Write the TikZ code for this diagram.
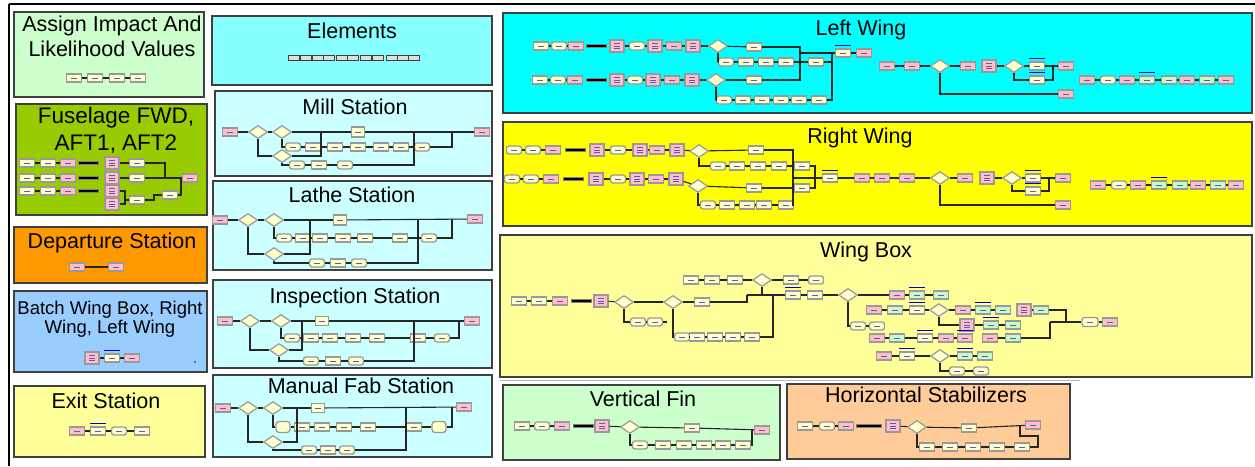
\documentclass[tikz,border=0pt]{standalone}
\usepackage{fontspec}
\setmainfont{Liberation Sans}
\usetikzlibrary{shapes.geometric}

% panel fills
\definecolor{cAssign}{RGB}{204,255,204}
\definecolor{cFus}{RGB}{153,204,0}
\definecolor{cDep}{RGB}{255,153,0}
\definecolor{cBatch}{RGB}{153,204,255}
\definecolor{cExit}{RGB}{255,255,153}
\definecolor{cElem}{RGB}{136,255,255}
\definecolor{cStat}{RGB}{204,255,255}
\definecolor{cLW}{RGB}{0,255,255}
\definecolor{cRW}{RGB}{255,255,0}
\definecolor{cWB}{RGB}{255,255,153}
\definecolor{cVF}{RGB}{204,255,204}
\definecolor{cHS}{RGB}{255,204,153}
% module fills
\definecolor{blkY}{RGB}{255,255,204}
\definecolor{blkP}{RGB}{255,190,200}
\definecolor{blkG}{RGB}{200,250,200}
\definecolor{lbl}{RGB}{90,90,190}

\tikzset{
  ln/.style={draw=black!85, line width=1.1},
  panel/.style={draw=black!75, line width=1.2},
  ttl/.style={anchor=north, inner sep=0, align=center, font=\fontsize{21.5}{25}\selectfont},
  blk0/.style={rectangle, draw=black!40, line width=1.3, minimum width=15,
    minimum height=8, inner sep=0},
  dash1/.style={path picture={\draw[lbl, line width=0.45]
    ([xshift=-3pt]path picture bounding box.center) --
    ([xshift=3pt]path picture bounding box.center);}},
  yb/.style={blk0, dash1, fill=blkY},
  yr/.style={yb, rounded corners=2.5},
  ybl/.style={blk0, fill=blkY, rounded corners=3, minimum width=14, minimum height=11},
  pb/.style={blk0, dash1, fill=blkP},
  gb/.style={blk0, dash1, fill=blkG},
  pt/.style={blk0, fill=blkP, minimum width=14, minimum height=12,
    path picture={\foreach \o in {-2.5,0,2.5}{\draw[lbl, line width=0.4]
      ([xshift=-3pt,yshift=\o pt]path picture bounding box.center) --
      ([xshift=3pt,yshift=\o pt]path picture bounding box.center);}}},
  dia/.style={diamond, draw=black!40, fill=blkY, line width=1.2,
    minimum width=19, minimum height=13, inner sep=0},
  bar/.style={rectangle, fill=black, draw=black!50, line width=0.6,
    minimum width=20, minimum height=3.5, inner sep=0},
  barw/.style={bar, minimum width=25},
  qb/.style={append after command={([yshift=2.5pt]\tikzlastnode.north west)
    edge[draw=blue!80!black, line width=1] ([yshift=2.5pt]\tikzlastnode.north east)}},
  ybq/.style={yb, qb},
  gbq/.style={gb, qb},
  pbq/.style={pb, qb},
  elc/.style={rectangle, fill=gray!25, draw=black!75, line width=1,
    minimum width=11, minimum height=5, inner sep=0},
}

% a row of modules: prefix, y, list of x/style
\newcommand\brow[3]{\foreach \bx/\bs [count=\bi] in {#3}{\node[\bs] (#1\bi) at (\bx,#2) {};}}
% connect consecutive modules prefix<i> -- prefix<i+1>
\newcommand\blink[3]{\foreach \li in {#2,...,#3}{\pgfmathtruncatemacro\lj{\li+1}\draw[ln] (#1\li) -- (#1\lj);}}

\begin{document}
\begin{tikzpicture}[x=1pt, y=-1pt]
\fill[white] (0,0) rectangle (1255,466);
\useasboundingbox (0,0) rectangle (1255,466);

% outer frame
\draw[black, line width=2.2] (9,4) -- (1255,4);
\draw[black, line width=2] (9,4) -- (9,466);
\draw[gray!55, line width=1] (500,380) -- (1080,380);

% ---------------- panels ----------------
\draw[panel, fill=cAssign] (14,12) rectangle (204,97);
\draw[panel, fill=cFus] (16,104) rectangle (207,215);
\draw[panel, fill=cDep] (14,227) rectangle (207,283);
\draw[panel, fill=cBatch] (14,291) rectangle (207,372);
\draw[panel, fill=cExit] (14,386) rectangle (205,457);
\draw[panel, fill=cElem] (212,16) rectangle (492,85);
\draw[panel, fill=cStat] (215,91) rectangle (492,176);
\draw[panel, fill=cStat] (213,181) rectangle (492,270);
\draw[panel, fill=cStat] (213,280) rectangle (492,368);
\draw[panel, fill=cStat] (213,375) rectangle (492,457);
\draw[panel, fill=cLW] (503,13) rectangle (1252,113);
\draw[panel, fill=cRW] (503,122) rectangle (1252,226);
\draw[panel, fill=cWB] (500,235) rectangle (1252,377);
\draw[panel, fill=cVF] (503,385) rectangle (780,460);
\draw[panel, fill=cHS] (787,384) rectangle (1070,459);

% ---------------- titles ----------------
\node[ttl] (tAssign) at (112,16) {Assign Impact And\\Likelihood Values};
\node[ttl, font=\fontsize{22.5}{27}\selectfont] (tFus) at (116,107) {Fuselage FWD,\\AFT1, AFT2};
\node[ttl] (tDep) at (112,233) {Departure Station};
\node[ttl, font=\fontsize{18.5}{19}\selectfont] (tBatch) at (110,301) {Batch Wing Box, Right\\Wing, Left Wing};
\node[ttl] (tExit) at (106,393) {Exit Station};
\node[ttl] (tElem) at (352,23) {Elements};
\node[ttl] (tMill) at (355,99) {Mill Station};
\node[ttl] (tLathe) at (352,187) {Lathe Station};
\node[ttl] (tInsp) at (355,288) {Inspection Station};
\node[ttl] (tMan) at (361,378) {Manual Fab Station};
\node[ttl] (tLW) at (861,20) {Left Wing};
\node[ttl] (tRW) at (860,128) {Right Wing};
\node[ttl] (tWB) at (866,242) {Wing Box};
\node[ttl] (tVF) at (643,391) {Vertical Fin};
\node[ttl] (tHS) at (926,387) {Horizontal Stabilizers};

% ---------------- Assign Impact And Likelihood Values ----------------
\brow{as}{78}{74/yb,95/yb,117/yb,138/yb}
\blink{as}{1}{3}

% ---------------- Fuselage ----------------
\brow{fa}{163}{27/yb,48/yb,68/pb,88/bar,112/pt,137/yb}
\brow{fb}{178}{27/yb,48/yb,68/pb,88/bar,112/pt,137/yb}
\brow{fc}{191}{27/yb,48/yb,68/pb,88/bar,112/pt}
\node[pt] (fc6) at (112,204) {};
\node[yb] (fc7) at (137,200) {};
\node[yb] (fc8) at (170,195) {};
\node[pb] (fe) at (190,178) {};
\blink{fa}{1}{2} \blink{fb}{1}{2} \blink{fc}{1}{2}
\draw[ln] (fa5) -- (fa6);
\draw[ln] (fb5) -- (fb6);
\coordinate (fj1) at (165,178);
\coordinate (fj2) at (125,200);
\coordinate (fj3) at (154,195);
\coordinate (fj4) at (181,195);
\draw[ln] (fa6.east) -| (fj1);
\draw[ln] (fb6) -- (fe);
\draw[ln] (fc5.east) -| (fj2);
\draw[ln] (fc6.east) -| (fj2);
\draw[ln] (fj2) -- (fc7.west);
\draw[ln] (fc7.east) -| (fj3) -- (fc8.west);
\draw[ln] (fc8.east) -- (fj4) |- (fe.west);

% ---------------- Departure Station ----------------
\brow{dp}{267}{77/pb,116/pb}
\blink{dp}{1}{1}

% ---------------- Batch ----------------
\brow{bt}{358}{92/pt,112/ybq,132/pb}
\blink{bt}{1}{2}
\node[circle, fill=blue!60!black, inner sep=0, minimum size=1.6] (btdot) at (195,362) {};

% ---------------- Exit Station ----------------
\brow{ex}{431}{77/pb,98/ybq,119/yr,142/yb}
\blink{ex}{1}{3}

% ---------------- Elements ----------------
\foreach \x [count=\i] in {294,306,318,329,342,353,366,378,392,403,414}
  \node[elc] (el\i) at (\x,58) {};

% ---------------- Mill Station ----------------
\node[pb] (mS) at (230,132) {};
\node[dia] (mD1) at (258,132) {};
\node[dia] (mD2) at (282,132) {};
\node[yb, minimum width=13, minimum height=10] (mT) at (358,132) {};
\node[pb] (mE) at (482,132) {};
\brow{mB}{147}{293/yr,313/yb,335/yb,358/yb,381/yb,401/yb,422/yr}
\node[dia] (mD3) at (282,156) {};
\brow{mC}{165}{297/yr,319/yb,345/yr}
\coordinate (mJ1) at (452,132);
\coordinate (mJ2) at (321,132);
\coordinate (mJ3) at (414,132);
\draw[ln] (mS) -- (mD1);
\draw[ln] (mD1) -- (mD2);
\draw[ln] (mD2) -- (mT);
\draw[ln] (mT) -- (mE);
\draw[ln] (mD2.south) |- (mB1.west);
\blink{mB}{1}{6}
\draw[ln] (mB7.east) -| (mJ1);
\draw[ln] (mD1.south) |- (mD3.west);
\draw[ln] (mD3.east) -| (mJ2);
\draw[ln] (mD3.south) |- (mC1.west);
\blink{mC}{1}{2}
\draw[ln] (mC3.east) -| (mJ3);

% ---------------- Lathe Station ----------------
\node[pb] (lS) at (220,220) {};
\node[dia] (lD1) at (248,220) {};
\node[dia] (lD2) at (274,220) {};
\node[yb, minimum width=13, minimum height=10] (lT) at (340,220) {};
\node[pb] (lE) at (475,219) {};
\brow{lB}{238}{284/yr,303/yb,320/yb,343/yb,365/yb,400/yb,429/yr}
\node[dia] (lD3) at (274,254) {};
\brow{lC}{263}{317/yr,338/yb,359/yr}
\coordinate (lJ1) at (452,219);
\coordinate (lJ2) at (310,220);
\coordinate (lJ3) at (418,220);
\draw[ln] (lS) -- (lD1);
\draw[ln] (lD1) -- (lD2);
\draw[ln] (lD2) -- (lT);
\draw[ln] (lT) -- (lE);
\draw[ln] (lD2.south) |- (lB1.west);
\blink{lB}{1}{6}
\draw[ln] (lB7.east) -| (lJ1);
\draw[ln] (lD1.south) |- (lD3.west);
\draw[ln] (lD3.east) -| (lJ2);
\draw[ln] (lD3.south) |- (lC1.west);
\blink{lC}{1}{2}
\draw[ln] (lC3.east) -| (lJ3);

% ---------------- Inspection Station ----------------
\node[pb] (iS) at (225,321) {};
\node[dia] (iD1) at (250,321) {};
\node[dia] (iD2) at (281,321) {};
\node[yb, minimum width=13, minimum height=9] (iT) at (322,321) {};
\node[pb] (iE) at (472,321) {};
\brow{iB}{338}{292/yr,311/yb,330/yb,353/yb,377/yb,418/yb,442/yr}
\node[dia] (iD3) at (279,350) {};
\brow{iC}{361}{311/yr,333/yb,356/yr}
\coordinate (iJ1) at (459,321);
\coordinate (iJ2) at (302,321);
\coordinate (iJ3) at (414,321);
\draw[ln] (iS) -- (iD1);
\draw[ln] (iD1) -- (iD2);
\draw[ln] (iD2) -- (iT);
\draw[ln] (iT) -- (iE);
\draw[ln] (iD2.south) |- (iB1.west);
\blink{iB}{1}{6}
\draw[ln] (iB7.east) -| (iJ1);
\draw[ln] (iD1.south) |- (iD3.west);
\draw[ln] (iD3.east) -| (iJ2);
\draw[ln] (iD3.south) |- (iC1.west);
\blink{iC}{1}{2}
\draw[ln] (iC3.east) -| (iJ3);

% ---------------- Manual Fab Station ----------------
\node[pb] (mfS) at (223,408) {};
\node[dia] (mfD1) at (248,408) {};
\node[dia] (mfD2) at (273,408) {};
\node[yb, minimum width=13, minimum height=9] (mfT) at (318,408) {};
\node[pb] (mfE) at (464,407) {};
\brow{mfB}{427}{283/ybl,302/yb,322/yb,344/yb,368/yb,414/yb,439/ybl}
\node[dia] (mfD3) at (273,442) {};
\brow{mfC}{450}{309/yr,328/yb,347/yr}
\coordinate (mfJ1) at (452,407);
\coordinate (mfJ2) at (297,408);
\coordinate (mfJ3) at (406,408);
\draw[ln] (mfS) -- (mfD1);
\draw[ln] (mfD1) -- (mfD2);
\draw[ln] (mfD2) -- (mfT);
\draw[ln] (mfT) -- (mfE);
\draw[ln] (mfD2.south) |- (mfB1.west);
\blink{mfB}{1}{6}
\draw[ln] (mfB7.east) -| (mfJ1);
\draw[ln] (mfD1.south) |- (mfD3.west);
\draw[ln] (mfD3.east) -| (mfJ2);
\draw[ln] (mfD3.south) |- (mfC1.west);
\blink{mfC}{1}{2}
\draw[ln] (mfC3.east) -| (mfJ3);

% ---------------- Left Wing ----------------
\brow{lwA}{46}{541/yb,559/yr,576/pb,596/bar,617/pt,637/yr,655/pt,674/pb,693/pt}
\node[dia] (lwAD) at (718,46) {};
\node[yb] (lwAT) at (754,47) {};
\blink{lwA}{1}{2}
\blink{lwA}{5}{8}
\draw[ln] (lwA9) -- (lwAD);
\draw[ln] (lwAD) -- (lwAT);
\brow{lwB}{62}{726/yr,746/yb,766/yb,786/yb,816/yb}
\draw[ln] (lwAD.south) |- (lwB1.west);
\blink{lwB}{1}{4}
\brow{lwC}{80}{540/yb,558/yr,575/pb,596/bar,617/pt,635/yr,653/pt,672/pb,692/pt}
\node[dia] (lwCD) at (716,80) {};
\node[yb] (lwCT) at (754,80) {};
\blink{lwC}{1}{2}
\blink{lwC}{5}{8}
\draw[ln] (lwC9) -- (lwCD);
\draw[ln] (lwCD) -- (lwCT);
\brow{lwD}{100}{724/yr,743/yb,762/yb,781/yb,799/yb,819/yb}
\draw[ln] (lwCD.south) |- (lwD1.west);
\blink{lwD}{1}{5}
\coordinate (lwJ1) at (800,53);
\coordinate (lwJ2) at (832,53);
\draw[ln] (lwAT.east) -| (lwJ1);
\draw[ln] (lwCT.east) -| (lwJ1);
\draw[ln] (lwB5.east) -| (lwJ2);
\draw[ln] (lwD6.east) -| (lwJ2);
\node[ybq] (lwQ) at (843,53) {};
\node[pb] (lwP) at (864,53) {};
\draw[ln] (lwJ1) -- (lwQ.west);
\draw[ln] (lwQ) -- (lwP);
\brow{lwE}{66}{887/pb,912/pb,940/dia,968/pb,989/pt,1014/dia,1037/ybq,1066/pb}
\blink{lwE}{1}{3}
\blink{lwE}{5}{7}
\node[ybq] (lwF1) at (1037,80) {};
\node[pb] (lwF2) at (1066,94) {};
\coordinate (lwJ3) at (1053,66);
\draw[ln] (lwE6.south) |- (lwF1.west);
\draw[ln] (lwF1.east) -| (lwJ3);
\draw[ln] (lwE3.south) |- (lwF2.west);
\brow{lwG}{80}{1087/pb,1108/yr,1127/pb,1147/gbq,1169/gb,1187/pb,1207/gb,1226/pb}
\blink{lwG}{1}{7}

% ---------------- Right Wing ----------------
\brow{rwA}{150}{514/yr,533/yr,553/pb,575/bar,597/pt,618/yr,640/pt,657/pb,677/pt}
\node[dia] (rwAD) at (699,151) {};
\node[yb] (rwAT) at (756,150) {};
\blink{rwA}{1}{2}
\blink{rwA}{5}{8}
\draw[ln] (rwA9) -- (rwAD);
\draw[ln] (rwAD) -- (rwAT);
\brow{rwB}{166}{718/yr,737/yb,758/yb,779/yb,802/yb}
\draw[ln] (rwAD.south) |- (rwB1.west);
\blink{rwB}{1}{4}
\brow{rwC}{179}{512/yr,531/yr,551/pb,573/bar,596/pt,618/yr,637/pt,656/pb,676/pt}
\node[dia] (rwCD) at (698,186) {};
\node[yb] (rwCT) at (754,188) {};
\blink{rwC}{1}{2}
\blink{rwC}{5}{8}
\draw[ln] (rwC9) -- (rwCD);
\draw[ln] (rwCD) -- (rwCT);
\brow{rwD}{205}{708/yr,727/yb,747/yb,764/yb,786/yb}
\draw[ln] (rwCD.south) |- (rwD1.west);
\blink{rwD}{1}{4}
\node[yb] (rwB6) at (802,188) {};
\coordinate (rwV1) at (793,178);
\coordinate (rwV2) at (815,178);
\draw[ln] (rwAT.east) -| (rwV1);
\draw[ln] (rwD5.east) -| (rwV1);
\draw[ln] (rwCT) -- (rwB6);
\draw[ln] (rwB5.east) -| (rwV2);
\draw[ln] (rwB6.east) -| (rwV2);
\node[ybq] (rwQ) at (830,178) {};
\draw[ln] (rwV1) -- (rwQ.west);
\brow{rwE}{178}{862/pb,882/pb,907/pb,940/dia,965/pb,987/pt,1012/dia,1033/ybq,1063/pb}
\draw[ln] (rwQ) -- (rwE1);
\blink{rwE}{1}{4}
\blink{rwE}{6}{8}
\node[ybq] (rwF1) at (1033,191) {};
\node[pb] (rwF2) at (1063,205) {};
\coordinate (rwJ3) at (1049,178);
\draw[ln] (rwE7.south) |- (rwF1.west);
\draw[ln] (rwF1.east) -| (rwJ3);
\draw[ln] (rwE4.south) |- (rwF2.west);
\brow{rwG}{185}{1098/pb,1119/yr,1138/pb,1159/gbq,1180/gb,1198/pb,1218/gb,1236/pb}
\blink{rwG}{1}{7}

% ---------------- Wing Box ----------------
\brow{wbA}{301}{519/yb,539/yb,560/pb,581/bar,601/pt}
\node[dia] (wbD1) at (624,302) {};
\node[dia] (wbD2) at (673,302) {};
\node[yb] (wbT) at (702,302) {};
\blink{wbA}{1}{2}
\draw[ln] (wbA5) -- (wbD1);
\draw[ln] (wbD1) -- (wbD2);
\draw[ln] (wbD2) -- (wbT);
\brow{wbB}{322}{638/yr,655/yr}
\draw[ln] (wbD1.south) |- (wbB1.west);
\blink{wbB}{1}{1}
\coordinate (wbX) at (667,322);
\draw[ln] (wbB2.east) -- (wbX);
\brow{wbC}{337}{682/yr,697/yb,715/yb,733/yb,752/yb}
\draw[ln] (wbD2.south) |- (wbC1.west);
\blink{wbC}{1}{4}
\coordinate (wbJ1) at (773,295);
\coordinate (wbJ2) at (747,295);
\coordinate (wbJ3) at (762,295);
\draw[ln] (wbC5.east) -| (wbJ1);
\draw[ln] (wbT.east) -| (wbJ2);
\brow{wbU}{280}{691/yb,712/yb,735/yb,762/dia,791/yb,816/yr}
\blink{wbU}{1}{5}
\draw[ln] (wbU4.south) -- (wbJ3);
\node[ybq] (wbQ) at (793,295) {};
\node[yb] (wbR) at (815,295) {};
\node[dia] (wbD4) at (848,295) {};
\draw[ln] (wbJ2) -- (wbQ.west);
\draw[ln] (wbQ) -- (wbR);
\draw[ln] (wbR) -- (wbD4);
\brow{wbE}{295}{897/pb,917/gbq,941/gb}
\draw[ln] (wbD4) -- (wbE1);
\blink{wbE}{1}{2}
\brow{wbF}{326}{858/yr,877/yr}
\draw[ln] (wbD4.south) |- (wbF1.west);
\blink{wbF}{1}{1}
\brow{wbG}{310}{874/pb,895/gb,917/ybq,939/dia,963/pb,983/gbq,1003/gb,1024/pt,1041/gb}
\blink{wbG}{1}{6}
\blink{wbG}{8}{8}
\brow{wbH}{325}{967/pt,991/gbq,1013/gb}
\draw[ln] (wbG4.south) |- (wbH1.west);
\blink{wbH}{1}{2}
\brow{wbK}{338}{877/pb,897/gb,925/ybq,946/pb,965/pbq,990/pb,1013/gb}
\blink{wbK}{1}{4}
\blink{wbK}{6}{6}
\brow{wbL}{356}{884/pb,907/ybq,940/dia,965/gbq,985/gb}
\blink{wbL}{1}{4}
\brow{wbM}{371}{957/yr,981/yr}
\draw[ln] (wbL3.south) |- (wbM1.west);
\blink{wbM}{1}{1}
\coordinate (wbJ4) at (1066,322);
\coordinate (wbJ5) at (1050,322);
\draw[ln] (wbG9.east) -| (wbJ4);
\draw[ln] (wbK7.east) -| (wbJ5);
\node[yr, minimum width=16, minimum height=9] (wbN1) at (1090,322) {};
\node[pb] (wbN2) at (1110,322) {};
\draw[ln] (wbJ5) -- (wbN1.west);
\draw[ln] (wbN1) -- (wbN2);

% ---------------- Vertical Fin ----------------
\brow{vf}{426}{522/yb,542/yr,562/pb,583/bar,602/pt}
\node[dia] (vfD) at (630,427) {};
\node[yb] (vfT) at (692,428) {};
\node[pb] (vfE) at (762,430) {};
\blink{vf}{1}{2}
\draw[ln] (vf5) -- (vfD);
\draw[ln] (vfD) -- (vfT);
\draw[ln] (vfT) -- (vfE);
\brow{vfB}{445}{640/yr,663/yb,684/yb,704/yb,723/yb,743/yb}
\draw[ln] (vfD.south) |- (vfB1.west);
\blink{vfB}{1}{5}
\coordinate (vfJ) at (752,430);
\draw[ln] (vfB6.east) -| (vfJ);

% ---------------- Horizontal Stabilizers ----------------
\brow{hs}{426}{805/yb,827/yr,846/pb,869/barw,893/pt}
\node[dia] (hsD) at (917,427) {};
\node[yb] (hsT) at (969,428) {};
\node[pb] (hsE) at (1033,425) {};
\blink{hs}{1}{2}
\draw[ln] (hs5) -- (hsD);
\draw[ln] (hsD) -- (hsT);
\draw[ln] (hsT) -- (hsE);
\brow{hsB}{447}{927/yb,950/yb,973/yb,997/yb,1022/yb}
\draw[ln] (hsD.south) |- (hsB1.west);
\blink{hsB}{1}{4}
\coordinate (hsK1) at (1038,436);
\coordinate (hsK2) at (1020,436);
\coordinate (hsK3) at (1020,426);
\draw[ln] (hsB5.east) -| (hsK1) -- (hsK2) -- (hsK3);
\end{tikzpicture}
\end{document}
